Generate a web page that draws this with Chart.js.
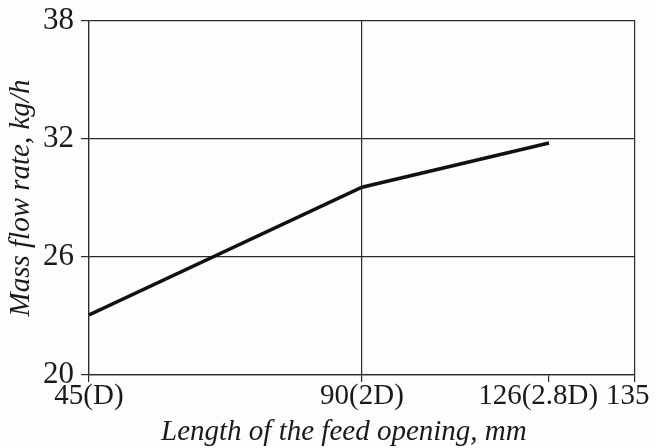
<!DOCTYPE html>
<html>
<head>
<meta charset="utf-8">
<script src="https://cdn.jsdelivr.net/npm/chart.js@4"></script>
<style>
  html, body { margin: 0; padding: 0; background: #fdfdfd; }
  #wrap { width: 656px; height: 448px; }
</style>
</head>
<body>
<div id="wrap"><canvas id="flowChart" width="656" height="448"></canvas></div>
<script>
// x positions on the drawn axis (the original axis is not to scale)
var tickPos = [0, 1, 1.685, 2];
var tickLabels = ['45(D)', '90(2D)', '126(2.8D)', '135'];
var gridShown = [true, true, false, true];
// measured series: feed opening 45, 90, 126 mm
var pointPos = [0, 1, 1.685];
var massFlow = [23.05, 29.55, 31.8];
var yTicks = [20, 26, 32, 38];

var serif = '"Liberation Serif", "Times New Roman", serif';
// trailing spaces nudge some labels left, as in the original figure
var labelNudge = ['', '', '   ', '  '];

var ctx = document.getElementById('flowChart').getContext('2d');

var points = [];
for (var i = 0; i < pointPos.length; i++) {
	points.push({ x: pointPos[i], y: massFlow[i] });
}

var bgPlugin = {
	id: 'bg',
	beforeDraw: function (chart) {
		var c = chart.ctx;
		c.save();
		c.fillStyle = '#fdfdfd';
		c.fillRect(0, 0, chart.width, chart.height);
		c.restore();
	}
};

new Chart(ctx, {
	type: 'line',
	data: {
		datasets: [
			{
				label: 'Mass flow rate',
				data: points,
				borderColor: '#111111',
				borderWidth: 3.5,
				pointRadius: 0,
				tension: 0,
				fill: false,
			},
		],
	},
	options: {
		responsive: false,
		animation: false,
		layout: { padding: { left: 5, right: 21, top: 21, bottom: 0 } },
		plugins: {
			legend: { display: false },
			tooltip: { enabled: false },
		},
		scales: {
			x: {
				type: 'linear',
				min: 0,
				max: 2,
				afterBuildTicks: function (scale) {
					scale.ticks = tickPos.map(function (v) { return { value: v }; });
				},
				afterFit: function (scale) {
					scale.height = 73;
					scale.paddingLeft = 0;
					scale.paddingRight = 0;
				},
				ticks: {
					autoSkip: false,
					maxRotation: 0,
					padding: -2,
					color: '#1a1a1a',
					font: { family: serif, size: 29, lineHeight: 1.1 },
					callback: function (v, idx) { return tickLabels[idx] + labelNudge[idx]; },
				},
				grid: {
					color: function (c) { return gridShown[c.index] ? '#2a2a2a' : 'rgba(0,0,0,0)'; },
					tickColor: '#2a2a2a',
					tickLength: 7,
					lineWidth: 1.2,
				},
				border: { color: '#2a2a2a', width: 1.2 },
				title: {
					display: true,
					text: 'Length of the feed opening, mm     ',
					color: '#1a1a1a',
					padding: { top: 0, bottom: 0 },
					font: { family: serif, size: 29, style: 'italic', lineHeight: 1.1 },
				},
			},
			y: {
				min: 20,
				max: 38,
				afterBuildTicks: function (scale) {
					scale.ticks = yTicks.map(function (v) { return { value: v }; });
				},
				afterFit: function (scale) {
					scale.width = 84;
					scale.paddingTop = 0;
					scale.paddingBottom = 0;
				},
				ticks: {
					padding: 7,
					color: '#1a1a1a',
					font: { family: serif, size: 31 },
				},
				grid: {
					color: '#2a2a2a',
					tickLength: 8,
					lineWidth: 1.2,
				},
				border: { color: '#2a2a2a', width: 1.2 },
				title: {
					display: true,
					text: 'Mass flow rate, kg/h',
					color: '#1a1a1a',
					padding: { top: 0, bottom: 2 },
					font: { family: serif, size: 29, style: 'italic', lineHeight: 1.1 },
				},
			},
		},
	},
	plugins: [bgPlugin],
});
</script>
</body>
</html>
